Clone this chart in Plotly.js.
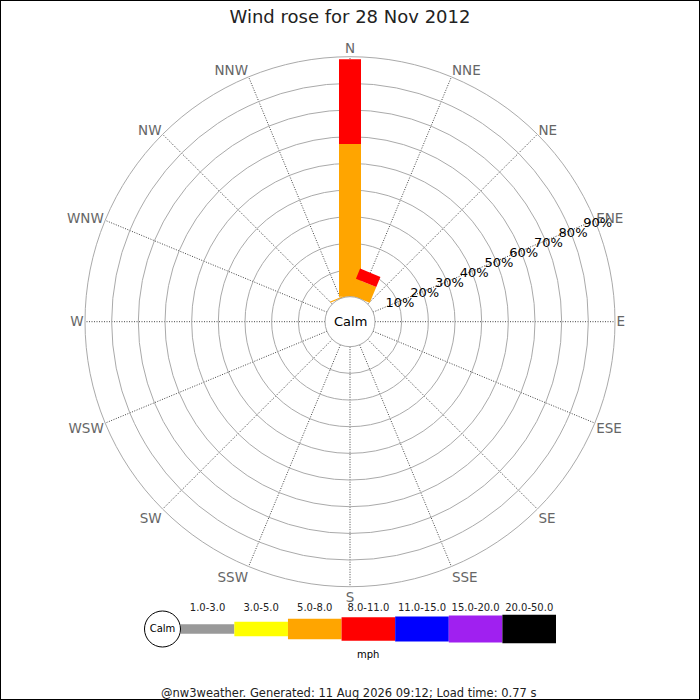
<!DOCTYPE html>
<html>
<head>
<meta charset="utf-8">
<script src="https://cdn.plot.ly/plotly-3.0.1.min.js"></script>
<style>
  body { margin: 0; background: #fff; }
  #chart { width: 700px; height: 700px; }
</style>
</head>
<body>
<div id="chart"></div>
<script>
// wind direction sectors, clockwise from north
const directions = ["N", "NNE", "NE", "ENE", "E", "ESE", "SE", "SSE",
                    "S", "SSW", "SW", "WSW", "W", "WNW", "NW", "NNW"];

// speed classes (mph)
const speedBins = ["1.0-3.0", "3.0-5.0", "5.0-8.0", "8.0-11.0", "11.0-15.0", "15.0-20.0", "20.0-50.0"];
const binColors = ["#999999", "#ffff00", "#ffa500", "#ff0000", "#0000ff", "#a020f0", "#000000"];

// % of time per direction for each speed class
const pct1to3   = [0, 0, 0, 0, 0, 0, 0, 0, 0, 0, 0, 0, 0, 0, 0, 0];
const pct3to5   = [0, 0, 0, 0, 0, 0, 0, 0, 0, 0, 0, 0, 0, 0, 0, 0];
const pct5to8   = [57.3, 6.4, 0, 0, 0, 0, 0, 0, 0, 0, 0, 0, 0, 0, 0, 0.4];
const pct8to11  = [31.7, 4.1, 0, 0, 0, 0, 0, 0, 0, 0, 0, 0, 0, 0, 0, 0];
const pct11to15 = [0, 0, 0, 0, 0, 0, 0, 0, 0, 0, 0, 0, 0, 0, 0, 0];
const pct15to20 = [0, 0, 0, 0, 0, 0, 0, 0, 0, 0, 0, 0, 0, 0, 0, 0];
const pct20to50 = [0, 0, 0, 0, 0, 0, 0, 0, 0, 0, 0, 0, 0, 0, 0, 0];

const radialTicks = [0, 10, 20, 30, 40, 50, 60, 70, 80, 90];

// legend key thickness in px, grows with speed
const keyThickness = [9.3, 14.3, 20.3, 23.4, 25, 27, 28.6];

const FONT = "DejaVu Sans, sans-serif";
const BAR_PX = 22;
const W = 700;

// rose geometry in px
const CX = 350, CY = 321.7, R = 265, HOLE = 25;
function polarDomain(cx, cy, r) {
    return {x: [(cx - r) / W, (cx + r) / W], y: [(W - cy - r) / W, (W - cy + r) / W]};
}

const series = [pct1to3, pct3to5, pct5to8, pct8to11, pct11to15, pct15to20, pct20to50];
const sectorAngle = directions.map((d, i) => i * 360 / directions.length);

// stacked rose: each class is drawn as thick straight segments from base to top
const traces = [];
const base = directions.map(() => 0);
series.forEach((vals, k) => {
    const r = [], theta = [];
    vals.forEach((v, i) => {
        if (v > 0) {
            r.push(base[i], base[i] + v, null);
            theta.push(sectorAngle[i], sectorAngle[i], null);
            base[i] += v;
        }
    });
    if (r.length) {
        traces.push({
            type: "scatterpolar",
            mode: "lines",
            r: r,
            theta: theta,
            line: {color: binColors[k], width: BAR_PX},
            connectgaps: false,
            hoverinfo: "skip"
        });
    }
});
// label-only overlays (direction names, percentage rings)
traces.push({type: "scatterpolar", subplot: "polar2", r: [], theta: [], mode: "lines", hoverinfo: "skip"});
traces.push({type: "scatterpolar", subplot: "polar3", r: [], theta: [], mode: "lines", hoverinfo: "skip"});

// colour key below the rose
traces.push({
    type: "bar",
    xaxis: "x",
    yaxis: "y",
    x: speedBins.map((s, i) => i + 0.5),
    y: keyThickness,
    base: keyThickness.map(h => -h / 2),
    width: 1,
    marker: {color: binColors, line: {width: 0}},
    hoverinfo: "skip"
});
traces.push({
    type: "scatter",
    xaxis: "x",
    yaxis: "y",
    x: [-0.34],
    y: [0],
    mode: "markers+text",
    text: ["Calm"],
    textposition: "middle center",
    textfont: {family: FONT, size: 10, color: "#000"},
    marker: {size: 36, color: "#fff", line: {color: "#000", width: 1}},
    cliponaxis: false,
    hoverinfo: "skip"
});

const radialBase = {
    range: [0, 90],
    angle: 22,
    tickangle: 22,
    tickmode: "array",
    tickvals: radialTicks,
    ticktext: radialTicks.map(v => v ? v + "%" : ""),
    ticks: "",
    showline: false,
    tickfont: {family: FONT, size: 13, color: "#000"}
};
const angularBase = {
    rotation: 90,
    direction: "clockwise",
    tickmode: "array",
    tickvals: sectorAngle,
    ticktext: directions,
    ticks: "",
    tickfont: {family: FONT, size: 13.5, color: "#666"}
};

const layout = {
    width: W,
    height: W,
    margin: {l: 0, r: 0, t: 0, b: 0},
    paper_bgcolor: "#fff",
    showlegend: false,
    font: {family: FONT, color: "#222"},
    title: {
        text: "Wind rose for 28 Nov 2012",
        x: 0.5, xanchor: "center",
        y: 1 - 17 / W, yref: "container", yanchor: "middle",
        font: {family: FONT, size: 18, color: "#222"}
    },
    // main rose: grid and bars
    polar: {
        domain: polarDomain(CX, CY, R),
        hole: HOLE / R,
        bgcolor: "#fff",
        angularaxis: Object.assign({}, angularBase, {
            showticklabels: false,
            showline: true,
            linecolor: "#aaaaaa",
            linewidth: 1,
            gridcolor: "#444444",
            griddash: "1px,1.5px",
            gridwidth: 1
        }),
        radialaxis: Object.assign({}, radialBase, {
            showticklabels: false,
            gridcolor: "#aaaaaa",
            gridwidth: 1
        })
    },
    // direction names round the rim
    polar2: {
        domain: polarDomain(CX, CY, R + 1),
        hole: HOLE / (R + 1),
        bgcolor: "rgba(0,0,0,0)",
        angularaxis: Object.assign({}, angularBase, {showline: false, showgrid: false}),
        radialaxis: {visible: false, range: [0, 90]}
    },
    // percentage labels, centred on the 22 degree ray
    polar3: {
        domain: polarDomain(CX - 15, CY - 8, R),
        hole: HOLE / R,
        bgcolor: "rgba(0,0,0,0)",
        angularaxis: Object.assign({}, angularBase, {visible: false, showgrid: false}),
        radialaxis: Object.assign({}, radialBase, {showgrid: false})
    },
    xaxis: {
        domain: [143.2 / W, 556 / W],
        range: [-0.7, 7],
        side: "top",
        tickmode: "array",
        tickvals: speedBins.map((s, i) => i + 0.5),
        ticktext: speedBins,
        ticks: "",
        showgrid: false,
        zeroline: false,
        showline: false,
        fixedrange: true,
        tickfont: {family: FONT, size: 10, color: "#222"}
    },
    yaxis: {
        domain: [56 / W, 86 / W],
        range: [-15, 15],
        showticklabels: false,
        ticks: "",
        showgrid: false,
        zeroline: false,
        showline: false,
        fixedrange: true
    },
    annotations: [
        {text: "Calm", xref: "paper", yref: "paper", x: CX / W, y: (W - CY) / W,
         xanchor: "center", yanchor: "middle", showarrow: false,
         font: {family: FONT, size: 13, color: "#000"}},
        {text: "mph", xref: "x", yref: "paper", x: 3.5, y: 46 / W,
         xanchor: "center", yanchor: "middle", showarrow: false,
         font: {family: FONT, size: 10, color: "#000"}},
        {text: "@nw3weather. Generated: 11 Aug 2026 09:12; Load time: 0.77 s",
         xref: "paper", yref: "paper", x: 348 / W, y: 7.5 / W,
         xanchor: "center", yanchor: "middle", showarrow: false,
         font: {family: FONT, size: 11.5, color: "#222"}}
    ],
    shapes: [
        {type: "rect", xref: "paper", yref: "paper", x0: 0, x1: 1, y0: 0, y1: 1,
         line: {color: "#000", width: 2}}
    ]
};

Plotly.newPlot("chart", traces, layout, {staticPlot: true});
</script>
</body>
</html>
